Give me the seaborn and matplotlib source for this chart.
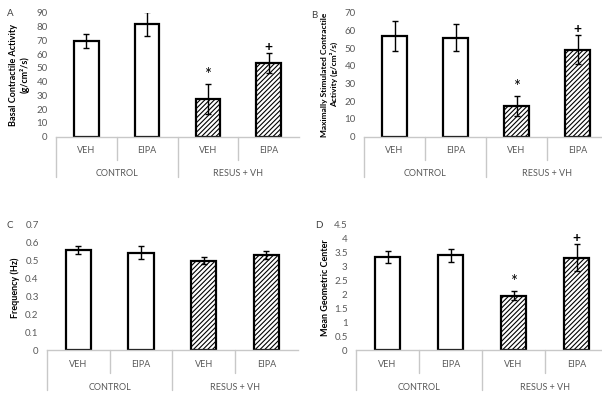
import matplotlib
matplotlib.use("Agg")
import matplotlib.pyplot as plt
import matplotlib.transforms as mtransforms
import pandas as pd
import seaborn as sns

# groups / treatments shared by all four panels
groups = ["CONTROL", "CONTROL", "RESUS + VH", "RESUS + VH"]
treatments = ["VEH", "EIPA", "VEH", "EIPA"]

# A: basal contractile activity
basal_mean = [69.5, 81.7, 27.3, 53.7]
basal_err = [5.0, 8.8, 10.6, 7.2]
# B: maximally stimulated contractile activity
maxstim_mean = [56.8, 55.9, 17.3, 49.0]
maxstim_err = [8.5, 7.5, 5.4, 8.2]
# C: frequency
freq_mean = [0.561, 0.546, 0.500, 0.533]
freq_err = [0.024, 0.035, 0.021, 0.021]
# D: mean geometric center
mgc_mean = [3.35, 3.41, 1.96, 3.33]
mgc_err = [0.22, 0.23, 0.15, 0.50]

# significance marks: "*" vs control, "+" vs resus VEH
marks_ab_d = ["", "", "*", "+"]
marks_c = ["", "", "", ""]

W, H = 602, 401
sns.set_theme(style="white")
plt.rcParams["font.family"] = ["Lato", "DejaVu Sans"]
plt.rcParams["hatch.linewidth"] = 0.8
fig = plt.figure(figsize=(W / 100, H / 100), dpi=100)

GRAY = "#595959"
LINE = "#c8c8c8"


def px_axes(left, top, right, bottom):
    return fig.add_axes([left / W, 1 - bottom / H, (right - left) / W, (bottom - top) / H])


def panel(ax, means, errs, marks, ymax, ystep, ylabel, letter, xmax, label_x,
          label_size=6.5):
    df = pd.DataFrame({
        "cond": [f"{g}|{t}|{i}" for i, (g, t) in enumerate(zip(groups, treatments))],
        "value": means,
    })
    sns.barplot(data=df, x="cond", y="value", ax=ax, width=0.4,
                color="white", edgecolor="black", linewidth=1.6, errorbar=None)
    centers = []
    for i, p in enumerate(ax.patches):
        p.set_facecolor("white")
        if groups[i] != "CONTROL":
            p.set_hatch("///////")
        centers.append(p.get_x() + p.get_width() / 2)
    ax.errorbar(centers, means, yerr=errs, fmt="none", ecolor="black",
                elinewidth=1.0, capsize=2.2, capthick=1.0, zorder=5)
    for x, m, e, mk in zip(centers, means, errs, marks):
        if mk == "*":
            ax.annotate("*", (x, m + e), xytext=(0, 1), textcoords="offset points",
                        ha="center", va="bottom", fontsize=12, color="black")
        elif mk == "+":
            ax.annotate("+", (x, m + e), xytext=(0, 0), textcoords="offset points",
                        ha="center", va="bottom", fontsize=10, fontweight="bold",
                        color="black")

    ax.set_xlim(-0.5, xmax)
    ax.set_ylim(0, ymax)
    ticks = [round(i * ystep, 3) for i in range(int(round(ymax / ystep)) + 1)]
    ax.set_yticks(ticks)
    ax.set_yticklabels([f"{t:g}" for t in ticks])
    ax.tick_params(axis="y", length=0, labelsize=7, labelcolor=GRAY, pad=6)
    ax.set_xticks(range(4))
    ax.set_xticklabels(treatments)
    ax.tick_params(axis="x", length=0, labelsize=6.5, labelcolor=GRAY, pad=7)
    ax.set_xlabel("")
    ax.set_ylabel(ylabel, fontsize=label_size, fontweight="bold", color="black",
                  linespacing=1.25)
    ax.yaxis.set_label_coords(label_x, 0.5)
    ax.yaxis.label.set_verticalalignment("center")
    for s in ["left", "right", "top"]:
        ax.spines[s].set_visible(False)
    ax.spines["bottom"].set_color(LINE)
    ax.spines["bottom"].set_linewidth(1.0)

    # hierarchical category axis
    bbox = ax.get_position()
    hpx = bbox.height * H
    minor = -23 / hpx
    major = -40 / hpx
    trans = mtransforms.blended_transform_factory(ax.transData, ax.transAxes)
    for xb, depth in [(-0.5, major), (0.5, minor), (1.5, major), (2.5, minor)]:
        ax.plot([xb, xb], [0, depth], transform=trans, color=LINE, lw=1.0,
                clip_on=False)
    for xg, name in [(0.5, groups[0]), (2.5, groups[2])]:
        ax.text(xg, -37 / hpx, name, transform=trans, ha="center", va="center",
                fontsize=6.5, color=GRAY)
    ax.text(letter[1], letter[2], letter[0], transform=fig.transFigure,
            fontsize=7, color="#404040", ha="center", va="center")


axA = px_axes(56, 12.7, 299, 136.7)
panel(axA, basal_mean, basal_err, marks_ab_d, 90, 10,
      "Basal Contractile Activity\n(g/cm\u00b2/s)", ("A", 10 / W, 1 - 13 / H),
      3.5, -0.15)

axB = px_axes(364, 12.7, 602, 136.7)
panel(axB, maxstim_mean, maxstim_err, marks_ab_d, 70, 10,
      "Maximally Stimulated Contractile\nActivity (g/cm\u00b2/s)",
      ("B", 314 / W, 1 - 15 / H), -0.5 + 238 / 61, -0.145, label_size=6.0)

axC = px_axes(47, 225, 297.7, 350)
panel(axC, freq_mean, freq_err, marks_c, 0.7, 0.1, "Frequency (Hz)",
      ("C", 10 / W, 1 - 225 / H), 3.5, -0.128)

axD = px_axes(356, 225, 602, 350)
panel(axD, mgc_mean, mgc_err, marks_ab_d, 4.5, 0.5, "Mean Geometric Center",
      ("D", 319 / W, 1 - 225 / H), -0.5 + 246 / 63, -0.126)

fig.savefig("out.png", dpi=100, facecolor="white")
